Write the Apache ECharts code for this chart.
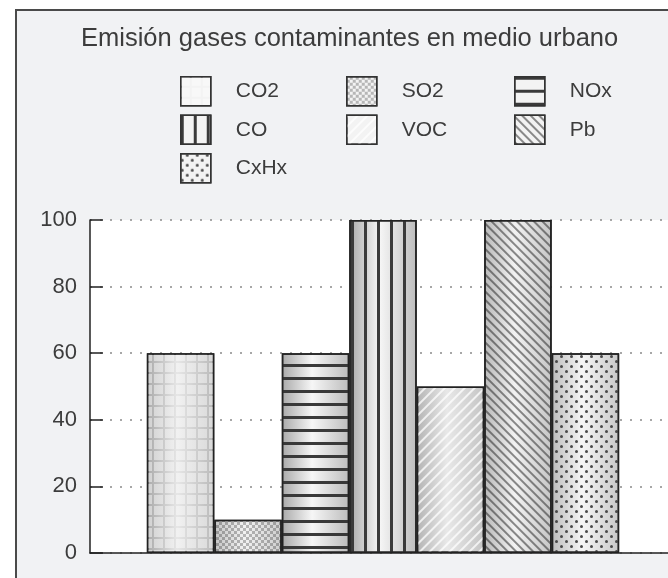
<!DOCTYPE html>
<html>
<head>
<meta charset="utf-8">
<script src="https://cdn.jsdelivr.net/npm/echarts@6/dist/echarts.min.js"></script>
<style>
  html, body { margin: 0; padding: 0; background: #ffffff; }
  #chart { width: 668px; height: 578px; }
</style>
</head>
<body>
<div id="chart"></div>
<script>
// Emission levels per pollutant (single urban category)
const categories = [''];
const gasNames = ['CO2', 'SO2', 'NOx', 'CO', 'VOC', 'Pb', 'CxHx'];
const gasValues = [60, 10, 60, 100, 50, 100, 60];
const legendColumns = [
  ['CO2', 'CO', 'CxHx'],
  ['SO2', 'VOC'],
  ['NOx', 'Pb']
];

const FONT = '"Liberation Sans", Arial, sans-serif';

// Cylinder-like shading across each bar
function shade(edgeL, mid, edgeR) {
  return new echarts.graphic.LinearGradient(0, 0, 1, 0, [
    { offset: 0, color: edgeL },
    { offset: 0.45, color: mid },
    { offset: 1, color: edgeR }
  ]);
}

// Hatch patterns per pollutant
const patterns = {
  CO2: { symbol: 'rect', symbolSize: 1, color: 'rgba(255,255,255,0.45)', dashArrayX: [9, 2], dashArrayY: [9, 2] },
  SO2: { symbol: 'rect', symbolSize: 1, color: 'rgba(0,0,0,0.25)', dashArrayX: [[3, 3], [0, 3, 3, 0]], dashArrayY: [3, 0] },
  NOx: { symbol: 'rect', symbolSize: 1, color: '#3a3a3a', dashArrayX: [1, 0], dashArrayY: [2.5, 9.2] },
  CO:  { symbol: 'rect', symbolSize: 1, color: '#3a3a3a', dashArrayX: [2.5, 9.2], dashArrayY: [1, 0] },
  VOC: { symbol: 'rect', symbolSize: 1, color: 'rgba(255,255,255,0.75)', dashArrayX: [1, 0], dashArrayY: [2, 5], rotation: -Math.PI / 4 },
  Pb:  { symbol: 'rect', symbolSize: 1, color: 'rgba(30,30,30,0.5)', dashArrayX: [1, 0], dashArrayY: [1.8, 3.2], rotation: Math.PI / 4 },
  CxHx:{ symbol: 'circle', symbolSize: 1, color: '#4a4a4a', dashArrayX: [[2.5, 6.5], [0, 4.5, 2.5, 2]], dashArrayY: [2.5, 2] }
};

const fills = {
  CO2: shade('#a9a9a9', '#e6e6e6', '#b9b9b9'),
  SO2: shade('#c4c4c4', '#f2f2f2', '#cdcdcd'),
  NOx: shade('#a9a9a9', '#f6f6f6', '#bdbdbd'),
  CO:  shade('#a9a9a9', '#f6f6f6', '#bdbdbd'),
  VOC: shade('#b4b4b4', '#e8e8e8', '#c4c4c4'),
  Pb:  shade('#b9b9b9', '#f2f2f2', '#c6c6c6'),
  CxHx:shade('#bcbcbc', '#f6f6f6', '#c8c8c8')
};

const series = gasNames.map((name, i) => ({
  name: name,
  type: 'bar',
  data: [gasValues[i]],
  barGap: '0%',
  barCategoryGap: '19.4%',
  itemStyle: {
    color: fills[name],
    borderColor: '#222',
    borderWidth: 1.5,
    decal: patterns[name]
  },
  emphasis: { disabled: true }
}));

const legendLefts = [175, 341, 509];
const legends = legendColumns.map((names, c) => ({
  orient: 'vertical',
  left: legendLefts[c],
  top: 71,
  data: names,
  icon: 'rect',
  itemWidth: 30,
  itemHeight: 29,
  itemGap: 8,
  selectedMode: false,
  itemStyle: { color: '#f3f3f3', borderColor: '#333', borderWidth: 1.5 },
  textStyle: { fontFamily: FONT, fontSize: 21, color: '#3c3c3c', padding: [0, 0, 0, 20] }
}));

const chart = echarts.init(document.getElementById('chart'), null, { renderer: 'canvas' });
chart.setOption({
  animation: false,
  backgroundColor: '#ffffff',
  graphic: [{
    type: 'rect',
    z: -10,
    silent: true,
    shape: { x: 16, y: 10, width: 720, height: 640 },
    style: { fill: '#f1f2f4', stroke: '#4a4a4a', lineWidth: 2 }
  }],
  title: {
    text: 'Emisión gases contaminantes en medio urbano',
    left: 76,
    top: 21,
    textStyle: { fontFamily: FONT, fontSize: 25.5, fontWeight: 'normal', color: '#3c3c3c' }
  },
  legend: legends,
  grid: {
    left: 90, top: 220, right: -8, bottom: 25,
    outerBoundsMode: 'none',
    show: true, backgroundColor: '#ffffff', borderWidth: 0
  },
  xAxis: {
    type: 'category',
    data: categories,
    axisLine: { lineStyle: { color: '#222', width: 1.5 } },
    axisTick: { alignWithLabel: true, length: 12, lineStyle: { color: '#222', width: 1.5 } },
    axisLabel: { show: false }
  },
  yAxis: {
    type: 'value',
    min: 0, max: 100, interval: 20,
    axisLine: { show: true, lineStyle: { color: '#222', width: 1.5 } },
    axisTick: { show: true, inside: true, length: 13, lineStyle: { color: '#222', width: 1.5 } },
    axisLabel: { fontFamily: FONT, fontSize: 22, color: '#3c3c3c', margin: 13 },
    splitLine: { lineStyle: { color: '#8a8a8a', width: 1.5, type: [2, 8] } }
  },
  series: series
});
</script>
</body>
</html>
